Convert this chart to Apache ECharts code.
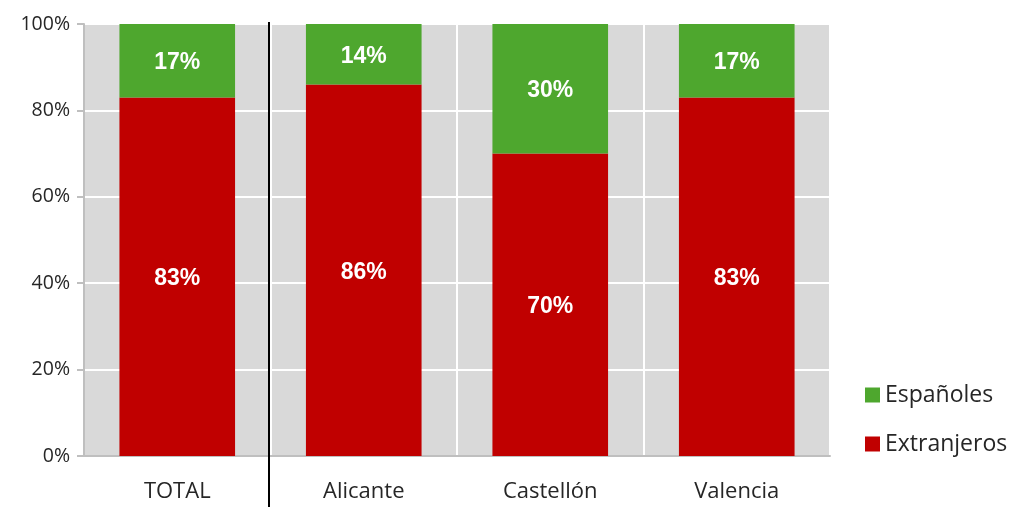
<!DOCTYPE html>
<html>
<head>
<meta charset="utf-8">
<script src="https://cdn.jsdelivr.net/npm/echarts@6/dist/echarts.min.js"></script>
<style>
html,body{margin:0;padding:0;background:#fff;}
#c{width:1011px;height:507px;}
</style>
</head>
<body>
<div id="c"></div>
<script>
const categories = ['TOTAL', 'Alicante', 'Castellón', 'Valencia'];
const extranjeros = [83, 86, 70, 83];
const espanoles = [17, 14, 30, 17];
const yTicks = [0, 20, 40, 60, 80, 100];

const chart = echarts.init(document.getElementById('c'), null, {renderer: 'canvas'});
const labelStyle = {
  show: true, position: 'inside', offset: [0, 2], color: '#fff', fontWeight: 'bold',
  fontSize: 23, fontFamily: 'Liberation Sans, Arial, sans-serif',
  formatter: p => p.value + '%'
};
chart.setOption({
  animation: false,
  grid: {left: 84, right: 181, top: 24, bottom: 51, show: true, backgroundColor: '#d9d9d9', borderWidth: 0},
  legend: {
    orient: 'vertical', left: 860, top: 378,
    data: ['Españoles', 'Extranjeros'],
    itemWidth: 15, itemHeight: 15, itemGap: 25, icon: 'rect',
    textStyle: {fontSize: 23, lineHeight: 24, color: '#262626', fontFamily: 'Open Sans, sans-serif', padding: [0, 0, 0, 0]}
  },
  xAxis: {
    type: 'category', data: categories,
    axisLine: {show: true, lineStyle: {color: '#bfbfbf', width: 2}},
    axisTick: {show: false},
    axisLabel: {fontSize: 22, color: '#262626', margin: 25, fontFamily: 'Open Sans, sans-serif'},
    splitLine: {show: true, lineStyle: {color: '#ffffff', width: 2}}
  },
  yAxis: {
    type: 'value', min: yTicks[0], max: yTicks[yTicks.length - 1], interval: 20,
    axisLine: {show: true, lineStyle: {color: '#bfbfbf', width: 2}},
    axisTick: {show: true, length: 7, lineStyle: {color: '#bfbfbf', width: 2}},
    axisLabel: {fontSize: 19.5, color: '#262626', margin: 14, formatter: '{value}%', fontFamily: 'Open Sans, sans-serif'},
    splitLine: {show: true, lineStyle: {color: '#ffffff', width: 2}}
  },
  series: [
    {name: 'Extranjeros', type: 'bar', stack: 's', data: extranjeros, barWidth: '62%',
     itemStyle: {color: '#c00000'}, label: labelStyle},
    {name: 'Españoles', type: 'bar', stack: 's', data: espanoles, barWidth: '62%',
     itemStyle: {color: '#4ea72e'}, label: labelStyle}
  ]
});
const x0 = chart.convertToPixel({xAxisIndex: 0}, categories[0]);
const x1 = chart.convertToPixel({xAxisIndex: 0}, categories[1]);
const xd = Math.floor((x0 + x1) / 2) - 1;
const yTop = chart.convertToPixel({yAxisIndex: 0}, 100) - 2;
chart.setOption({
  graphic: [{type: 'line', shape: {x1: xd, y1: yTop, x2: xd, y2: 507}, style: {stroke: '#000', lineWidth: 2}, z: 100}]
});
</script>
</body>
</html>
